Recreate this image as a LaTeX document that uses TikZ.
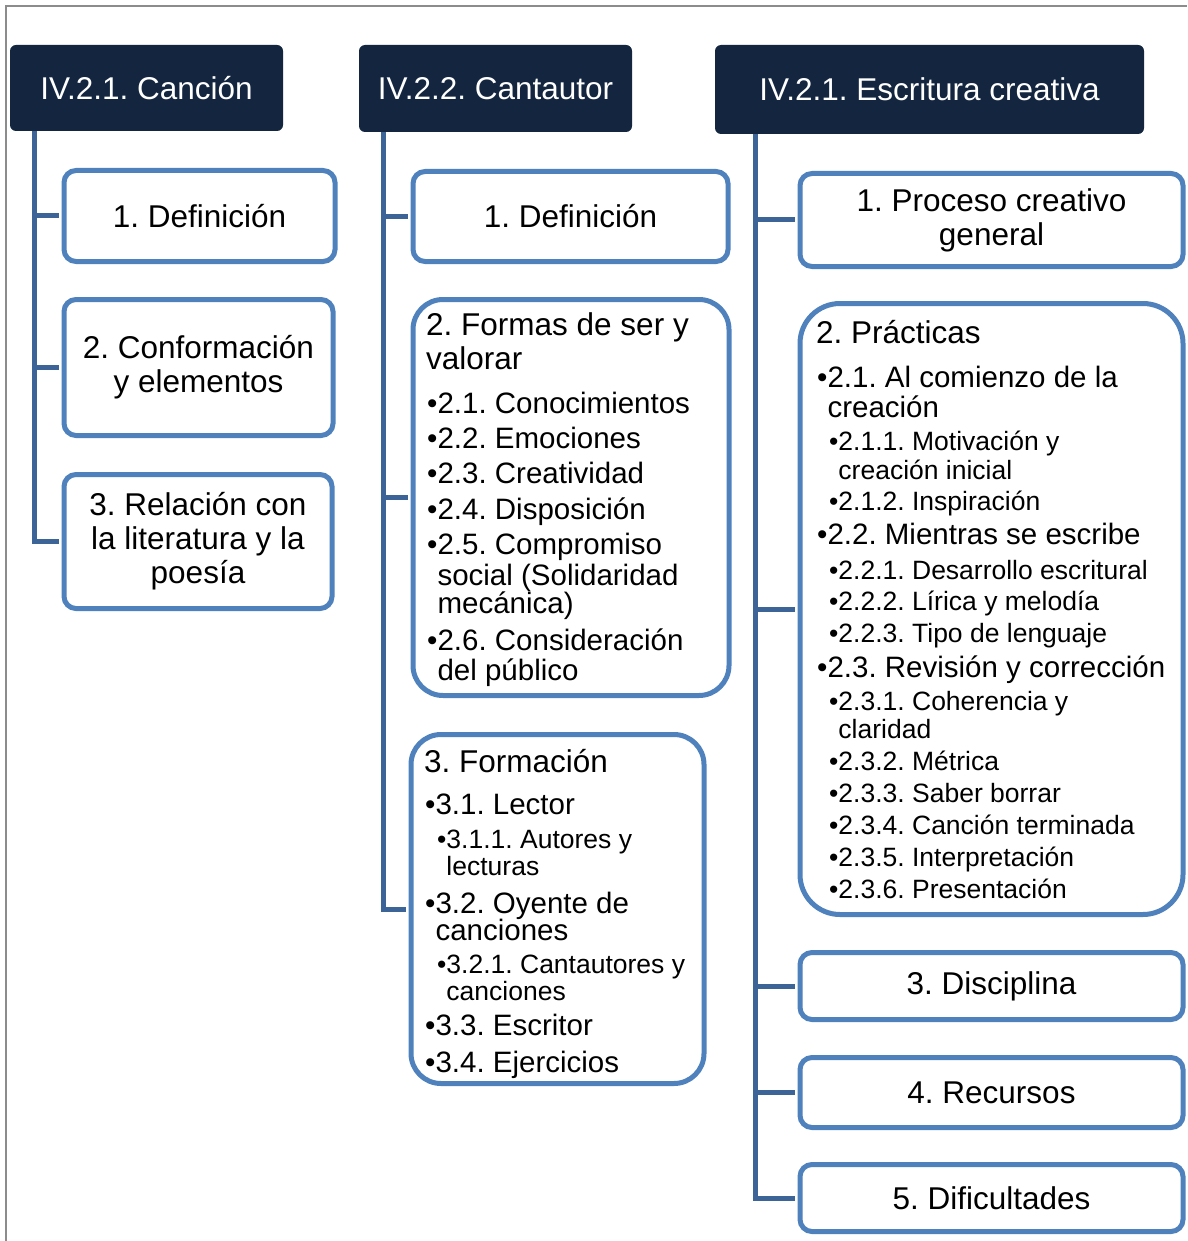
\documentclass[tikz,border=0pt]{standalone}
\usepackage{fontspec}
\setmainfont{Liberation Sans}
\frenchspacing

\definecolor{navy}{HTML}{13253F}
\definecolor{boxblue}{HTML}{4F81BD}
\definecolor{spineblue}{HTML}{3C6496}
\definecolor{framegray}{HTML}{8C8C8C}

\newcommand{\fhd}{\fontsize{31.5}{34}\selectfont}
\newcommand{\fli}{\fontsize{29.5}{34}\selectfont}
\newcommand{\fsu}{\fontsize{26.5}{30}\selectfont}
\newcommand{\hng}{\hphantom{•}}

\begin{document}
\begin{tikzpicture}[x=1pt, y=-1pt,
    headbox/.style={fill=navy, text=white, rounded corners=6pt, font=\fhd, inner sep=0pt},
    subbox/.style={draw=boxblue, line width=5pt, fill=white, rounded corners=12pt, align=center, font=\fhd, inner sep=0pt},
    listbox/.style={subbox, rounded corners=30pt},
    spine/.style={draw=spineblue, line width=5pt, shorten >=2.5pt},
    txt/.style={anchor=base west, inner sep=0pt}]
  \useasboundingbox (0,0) rectangle (1187,1241);
  \draw[framegray, line width=1.5pt] (6,1241) -- (6,6) -- (1187,6);

  % headers
  \node[headbox, minimum width=273pt, minimum height=86pt] (h1) at (146.5,88)  {IV.2.1. Canción};
  \node[headbox, minimum width=273pt, minimum height=87pt] (h2) at (495.5,88.5) {IV.2.2. Cantautor};
  \node[headbox, minimum width=429pt, minimum height=89pt] (h3) at (929.5,89.5) {IV.2.1. Escritura creativa};

  % column 1
  \node[subbox, minimum width=271pt, minimum height=91pt]  (b11) at (199.5,216) {1. Definición};
  \node[subbox, minimum width=269pt, minimum height=136pt] (b12) at (198.5,367.5) {2. Conformación\\y elementos};
  \node[subbox, minimum width=268pt, minimum height=134pt] (b13) at (198,541.5) {3. Relación con\\la literatura y la\\poesía};

  % column 2
  \node[subbox, minimum width=315pt, minimum height=90pt]   (b21) at (570.5,216.5) {1. Definición};
  \node[listbox, minimum width=316pt, minimum height=396pt] (b22) at (571,497.5) {};
  \node[listbox, minimum width=293pt, minimum height=349pt] (b23) at (557.5,909) {};

  % column 3
  \node[subbox, minimum width=383pt, minimum height=93pt]  (b31) at (991.5,220) {1. Proceso creativo\\general};
  \node[listbox, rounded corners=40pt, minimum width=383pt, minimum height=611pt] (b32) at (991.5,609) {};
  \node[subbox, minimum width=383pt, minimum height=67pt]  (b33) at (991.5,986) {3. Disciplina};
  \node[subbox, minimum width=383pt, minimum height=70pt]  (b34) at (991.5,1092.5) {4. Recursos};
  \node[subbox, minimum width=383pt, minimum height=67pt]  (b35) at (991.5,1198) {5. Dificultades};

  % list texts
  \foreach \yy/\xx/\fnt/\txt [count=\k] in {
      335/426/\fhd/{2. Formas de ser y},
      369/426/\fhd/{valorar},
      413/427/\fli/{•2.1. Conocimientos},
      448/427/\fli/{•2.2. Emociones},
      483/427/\fli/{•2.3. Creatividad},
      519/427/\fli/{•2.4. Disposición},
      554/427/\fli/{•2.5. Compromiso},
      585/427/\fli/{\hng social (Solidaridad},
      613/427/\fli/{\hng mecánica)},
      650/427/\fli/{•2.6. Consideración},
      680/427/\fli/{\hng del público}}
    \node[txt] (a\k) at (\xx,\yy) {\fnt\txt};

  \foreach \yy/\xx/\fnt/\txt [count=\k] in {
      772/424/\fhd/{3. Formación},
      814/425/\fli/{•3.1. Lector},
      848/437/\fsu/{•3.1.1. Autores y},
      875/437/\fsu/{\hng lecturas},
      913/425/\fli/{•3.2. Oyente de},
      940/425/\fli/{\hng canciones},
      973/437/\fsu/{•3.2.1. Cantautores y},
      1000/437/\fsu/{\hng canciones},
      1035/425/\fli/{•3.3. Escritor},
      1072/425/\fli/{•3.4. Ejercicios}}
    \node[txt] (f\k) at (\xx,\yy) {\fnt\txt};

  \foreach \yy/\xx/\fnt/\txt [count=\k] in {
      343/816/\fhd/{2. Prácticas},
      387/817/\fli/{•2.1. Al comienzo de la},
      417/817/\fli/{\hng creación},
      450/829/\fsu/{•2.1.1. Motivación y},
      479/829/\fsu/{\hng creación inicial},
      510/829/\fsu/{•2.1.2. Inspiración},
      544/817/\fli/{•2.2. Mientras se escribe},
      579/829/\fsu/{•2.2.1. Desarrollo escritural},
      610/829/\fsu/{•2.2.2. Lírica y melodía},
      642/829/\fsu/{•2.2.3. Tipo de lenguaje},
      677/817/\fli/{•2.3. Revisión y corrección},
      710/829/\fsu/{•2.3.1. Coherencia y},
      738/829/\fsu/{\hng claridad},
      770/829/\fsu/{•2.3.2. Métrica},
      802/829/\fsu/{•2.3.3. Saber borrar},
      834/829/\fsu/{•2.3.4. Canción terminada},
      866/829/\fsu/{•2.3.5. Interpretación},
      898/829/\fsu/{•2.3.6. Presentación}}
    \node[txt] (p\k) at (\xx,\yy) {\fnt\txt};

  % connectors
  \coordinate (s1) at ([xshift=25pt]h1.south west);
  \coordinate (s2) at ([xshift=25pt]h2.south west);
  \coordinate (s3) at ([xshift=41pt]h3.south west);
  \draw[spine] (s1) |- (b11.west);
  \draw[spine] (s1) |- (b12.west);
  \draw[spine] (s1) |- (b13.west);
  \draw[spine] (s2) |- (b21.west);
  \draw[spine] (s2) |- (b22.west);
  \draw[spine] (s2) |- (b23.west);
  \draw[spine] (s3) |- (b31.west);
  \draw[spine] (s3) |- (b32.west);
  \draw[spine] (s3) |- (b33.west);
  \draw[spine] (s3) |- (b34.west);
  \draw[spine] (s3) |- (b35.west);
\end{tikzpicture}
\end{document}
